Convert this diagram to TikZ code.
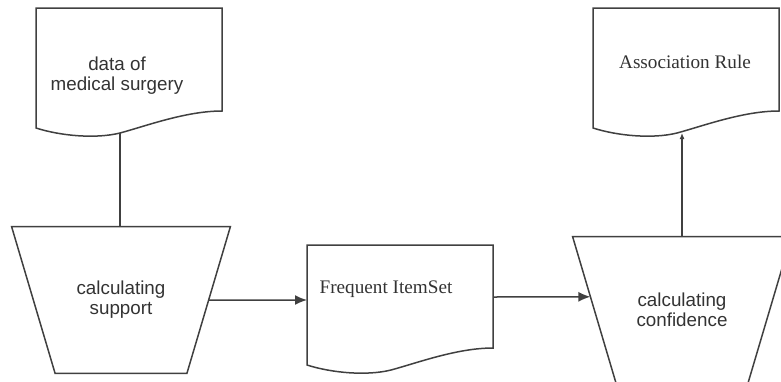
\documentclass[tikz,border=0pt]{standalone}
\usepackage{fontspec}
\setmainfont{Liberation Serif}
\setsansfont{Liberation Sans}
\usetikzlibrary{positioning,calc,arrows.meta}

\begin{document}
\begin{tikzpicture}[
    x=0.5pt, y=-0.5pt,
    line/.style={draw=black!75, line width=0.75pt},
    flow/.style={line, -{Latex[length=6pt,width=5pt]}},
    funnel/.style={minimum width=109pt, minimum height=73pt, inner sep=0pt,
      align=center, font=\sffamily\fontsize{9.4}{10}\selectfont, text=black!80},
    doctext/.style={align=center, text=black!80, inner sep=0pt}
  ]
  \useasboundingbox (0,0) rectangle (781,381);
  \clip (0,0) rectangle (781,381);

  % document outlines with the wavy bottom edge
  \foreach \n/\x/\y in {data/36/8, freq/307/245, rule/593/8}{
    \begin{scope}[shift={(\x,\y)}]
      \draw[line] (0,120) -- (0,0) -- (186,0) -- (186,103)
        .. controls (150,103) and (110,118) .. (84,125)
        .. controls (60,131) and (25,128) .. (0,120) -- cycle;
      \coordinate (\n-in) at (0,55);
      \coordinate (\n-out) at (186,52);
      \coordinate (\n-dip) at (84,125);
    \end{scope}
  }

  \node[doctext, font=\sffamily\fontsize{9.4}{10}\selectfont] (data) at (117,76) {data of\\medical surgery};
  \node[doctext, font=\fontsize{9.6}{11}\selectfont] (freq) at (386,289) {Frequent ItemSet};
  \node[doctext, font=\fontsize{9.6}{11}\selectfont] (rule) at (685,62) {Association Rule};

  \node[funnel] (sup) at (121,300) {calculating\\support};
  \node[funnel] (conf) at (682,310) {calculating\\confidence};

  % funnel outlines, wide side on top
  \foreach \n in {sup,conf}{
    \coordinate (\n-sw) at ([xshift=21.75pt]\n.south west);
    \coordinate (\n-se) at ([xshift=-21.75pt]\n.south east);
    \draw[line] (\n.north west) -- (\n.north east) -- (\n-se) -- (\n-sw) -- cycle;
  }

  \draw[line] (data-dip) -- (data-dip |- sup.north);
  \draw[flow] ($(sup.north east)!0.5!(sup-se)$) -- (freq-in);
  \draw[flow] (freq-out) -- ($(conf.north west)!0.41!(conf-sw)$);
  \draw[line, -{Latex[length=3pt,width=2.5pt]}] (conf.north) -- (conf.north |- rule-dip);
\end{tikzpicture}
\end{document}
